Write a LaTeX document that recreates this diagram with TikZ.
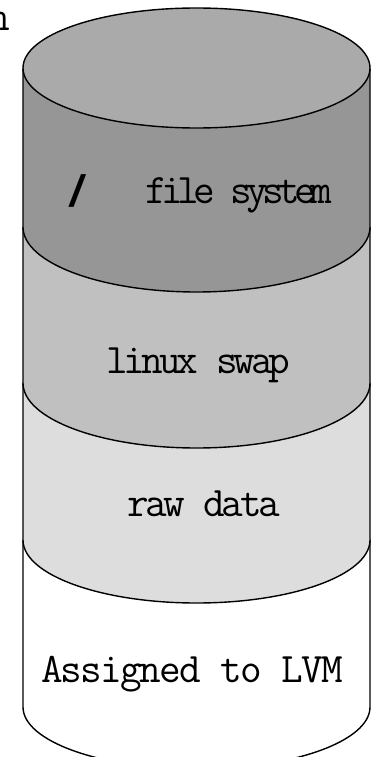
\documentclass[tikz,border=0pt]{standalone}
\usepackage{fontspec}
\newfontfamily\slashfont{Liberation Sans}
\newfontfamily\labelfont{Latin Modern Mono}
\definecolor{topgray}{HTML}{AAAAAA}
\definecolor{fsgray}{HTML}{969696}
\definecolor{swapgray}{HTML}{C0C0C0}
\definecolor{rawgray}{HTML}{DDDDDD}
\tikzset{
  band/.style={draw=black, line width=1.4pt, line join=round},
  lbl/.style={inner sep=0pt, anchor=base west, font=\labelfont\fontsize{42}{50}\selectfont},
}
\begin{document}
\begin{tikzpicture}[x=1pt, y=-1pt]
  \useasboundingbox (0,0) rectangle (371,757);
  \fill[white] (0,0) rectangle (371,757);
  % disk bands, painted from the bottom up so each lower arc covers the band below
  \filldraw[band, fill=white]
    (23,540) -- (23,707) arc[start angle=180, end angle=360, x radius=173.5pt, y radius=62pt]
    -- (370,540) -- cycle;
  \filldraw[band, fill=rawgray]
    (23,383) -- (23,540) arc[start angle=180, end angle=360, x radius=173.5pt, y radius=63pt]
    -- (370,383) -- cycle;
  \filldraw[band, fill=swapgray]
    (23,227) -- (23,383) arc[start angle=180, end angle=360, x radius=173.5pt, y radius=65pt]
    -- (370,227) -- cycle;
  \filldraw[band, fill=fsgray]
    (23,69) -- (23,227) arc[start angle=180, end angle=360, x radius=173.5pt, y radius=65pt]
    -- (370,69) -- cycle;
  % top face
  \filldraw[band, fill=topgray] (196.5,68) ellipse[x radius=173.5pt, y radius=60pt];
  % labels
  \node[lbl, anchor=base east] (cut) at (10,31) {n};
  \node[inner sep=0pt, anchor=base west, font=\slashfont\bfseries\itshape\fontsize{44}{50}\selectfont] (root) at (70,206) {/};
  \node[lbl] (fs) at (145,203) {\addfontfeature{LetterSpace=-13.5}file system};
  \node[lbl] (swap) at (106,373) {\addfontfeature{LetterSpace=-9.5}linux swap};
  \node[lbl] (raw) at (127,516) {\addfontfeature{LetterSpace=-8}raw data};
  \node[lbl] (lvm) at (41,682) {\addfontfeature{LetterSpace=-4.5}Assigned to LVM};
\end{tikzpicture}
\end{document}
